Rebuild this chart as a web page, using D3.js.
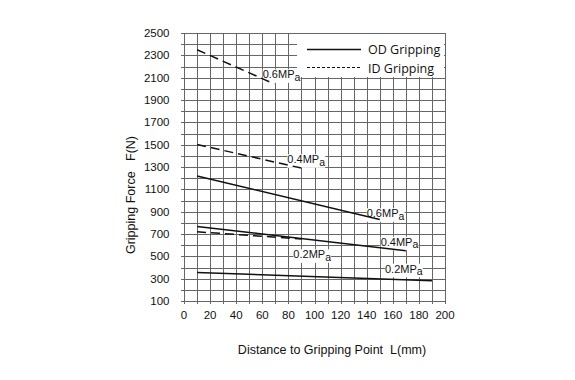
<!DOCTYPE html>
<html>
<head>
<meta charset="utf-8">
<script src="https://cdn.jsdelivr.net/npm/d3@7"></script>
<style>
  body { margin: 0; background: #fff; }
  text { font-family: "Liberation Sans", Arial, sans-serif; fill: #111; white-space: pre; }
  .grid line { stroke: #666; stroke-width: 1; shape-rendering: crispEdges; }
</style>
</head>
<body>
<div id="chart"></div>
<script>
// axis ticks
const xTicks = [0, 20, 40, 60, 80, 100, 120, 140, 160, 180, 200];
const yTicks = [100, 300, 500, 700, 900, 1100, 1300, 1500, 1700, 1900, 2100, 2300, 2500];

// OD gripping (solid) : [distance mm, force N]
const od06 = [[10, 1220], [150, 830]];
const od04 = [[10, 768], [170, 550]];
const od02 = [[10, 355], [190, 282]];

// ID gripping (dashed)
const id06 = [[10, 2350], [69, 2045]];
const id04 = [[10, 1502], [90, 1290]];
const id02 = [[10, 720], [90, 655]];

// pressure labels: [x, y] in data units (baseline)
const labelText = ["0.6MP", "0.4MP", "0.6MP", "0.4MP", "0.2MP", "0.2MP"];
const labelPos = [[60.3, 2094], [79.2, 1333], [140, 850], [150.7, 595], [83.8, 482], [154, 353]];

const width = 575;
const height = 380;

const svg = d3.select("#chart").append("svg")
  .attr("width", width)
  .attr("height", height);

const x = d3.scaleLinear().domain([0, 200]).range([184, 445]);
const y = d3.scaleLinear().domain([100, 2500]).range([301, 33]);

// grid
const grid = svg.append("g").attr("class", "grid");
grid.selectAll("line.v")
  .data(d3.range(0, 201, 10))
  .join("line")
  .attr("x1", d => Math.round(x(d)) + 0.5)
  .attr("x2", d => Math.round(x(d)) + 0.5)
  .attr("y1", y(2500))
  .attr("y2", y(100) + 3);
grid.selectAll("line.h")
  .data(d3.range(100, 2501, 100))
  .join("line")
  .attr("x1", x(0) - 3)
  .attr("x2", x(200))
  .attr("y1", d => Math.round(y(d)) + 0.5)
  .attr("y2", d => Math.round(y(d)) + 0.5);

// legend box covers the grid
svg.append("rect")
  .attr("x", 297)
  .attr("y", y(2500) + 1)
  .attr("width", x(200) - 297 - 1)
  .attr("height", 43)
  .attr("fill", "#fff");

// tick labels
svg.selectAll("text.xt")
  .data(xTicks)
  .join("text")
  .attr("x", d => x(d))
  .attr("y", 319)
  .attr("text-anchor", "middle")
  .style("font-size", "11.5px")
  .text(d => d);

svg.selectAll("text.yt")
  .data(yTicks)
  .join("text")
  .attr("x", 169.5)
  .attr("y", d => y(d) + 4)
  .attr("text-anchor", "end")
  .style("font-size", "11.5px")
  .text(d => d);

// axis titles
svg.append("text")
  .attr("x", 332)
  .attr("y", 354)
  .attr("text-anchor", "middle")
  .style("font-size", "12.5px")
  .text("Distance to Gripping Point  L(mm)");

svg.append("text")
  .attr("transform", "translate(135,195) rotate(-90)")
  .attr("text-anchor", "middle")
  .style("font-size", "12.5px")
  .text("Gripping Force   F(N)");

// pressure labels with white background
labelText.forEach((t, i) => {
  const g = svg.append("g");
  const lbl = g.append("text")
    .attr("x", x(labelPos[i][0]))
    .attr("y", y(labelPos[i][1]))
    .style("font-size", "11px")
    .text(t);
  lbl.append("tspan")
    .attr("dy", 2.5)
    .style("font-size", "10.5px")
    .text("a");
  const bb = lbl.node().getBBox();
  g.insert("rect", "text")
    .attr("x", bb.x)
    .attr("y", bb.y + 1)
    .attr("width", bb.width)
    .attr("height", bb.height - 1)
    .attr("fill", "#fff");
});

// curves
const line = d3.line().x(d => x(d[0])).y(d => y(d[1]));

[od06, od04, od02].forEach(s => {
  svg.append("path")
    .attr("d", line(s))
    .attr("fill", "none")
    .attr("stroke", "#111")
    .attr("stroke-width", 1.5);
});

[id06, id04, id02].forEach(s => {
  svg.append("path")
    .attr("d", line(s))
    .attr("fill", "none")
    .attr("stroke", "#111")
    .attr("stroke-width", 1.5)
    .attr("stroke-dasharray", "9 5");
});

// legend
const lg = svg.append("g");
lg.append("line")
  .attr("x1", 307).attr("x2", 361)
  .attr("y1", 49.5).attr("y2", 49.5)
  .attr("stroke", "#111").attr("stroke-width", 1.5);
lg.append("line")
  .attr("x1", 307).attr("x2", 361)
  .attr("y1", 67.5).attr("y2", 67.5)
  .attr("stroke", "#111").attr("stroke-width", 1.2)
  .attr("stroke-dasharray", "3 2");
lg.append("text")
  .attr("x", 368).attr("y", 54)
  .style("font-family", "'Open Sans', sans-serif")
  .style("font-size", "12.5px")
  .text("OD Gripping");
lg.append("text")
  .attr("x", 368).attr("y", 73)
  .style("font-family", "'Open Sans', sans-serif")
  .style("font-size", "12.5px")
  .text("ID Gripping");
</script>
</body>
</html>
